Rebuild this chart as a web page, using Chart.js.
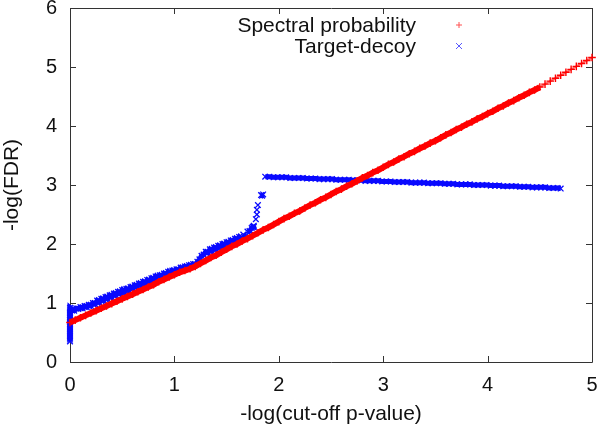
<!DOCTYPE html>
<html>
<head>
<meta charset="utf-8">
<script src="https://cdn.jsdelivr.net/npm/chart.js@4.4.1/dist/chart.umd.min.js"></script>
<style>
html,body{margin:0;padding:0;background:#fff;}
canvas{display:block;}
</style>
</head>
<body>
<canvas id="c" width="600" height="427"></canvas>
<script>
// ---- data ----
const xTicks = [0, 1, 2, 3, 4, 5];
const yTicks = [0, 1, 2, 3, 4, 5, 6];

const specLabel = "Spectral probability";
const specX = [0.00,0.05,0.10,0.15,0.20,0.25,0.30,0.35,0.40,0.45,0.50,0.55,0.60,0.65,0.70,0.75,0.80,0.85,0.90,0.95,
1.00,1.05,1.10,1.15,1.20,1.25,1.30,1.35,1.40,1.45,1.50,1.55,1.60,1.65,1.70,1.75,1.80,1.85,1.90,1.95,
2.00,2.05,2.10,2.15,2.20,2.25,2.30,2.35,2.40,2.45,2.50,2.55,2.60,2.65,2.70,2.75,2.80,2.85,2.90,2.95,
3.00,3.05,3.10,3.15,3.20,3.25,3.30,3.35,3.40,3.45,3.50,3.55,3.60,3.65,3.70,3.75,3.80,3.85,3.90,3.95,
4.00,4.05,4.10,4.15,4.20,4.25,4.30,4.35,4.40,4.45,4.50,4.55,4.60,4.65,4.70,4.75,4.80,4.85,4.90,4.95,5.00];
const specY = [0.67,0.71,0.75,0.79,0.83,0.87,0.91,0.95,0.99,1.03,1.07,1.11,1.15,1.19,1.23,1.27,1.31,1.36,1.40,1.44,
1.48,1.52,1.55,1.58,1.62,1.67,1.72,1.77,1.81,1.86,1.91,1.96,2.00,2.05,2.09,2.14,2.19,2.24,2.28,2.33,
2.38,2.43,2.47,2.52,2.56,2.61,2.66,2.70,2.75,2.79,2.84,2.89,2.93,2.98,3.02,3.07,3.12,3.16,3.21,3.25,
3.30,3.35,3.39,3.44,3.48,3.53,3.57,3.62,3.66,3.71,3.75,3.80,3.85,3.89,3.94,3.98,4.03,4.07,4.12,4.16,
4.21,4.25,4.30,4.34,4.39,4.43,4.48,4.52,4.57,4.61,4.66,4.71,4.76,4.81,4.86,4.91,4.96,5.01,5.06,5.11,5.16];

const tdLabel = "Target-decoy";
const tdX = [0,0,0,0,0,0,0,0,0,0,0,0,0,0,0,0,0,0,0,0,
0.02,0.04,0.06,0.08,0.10,0.12,0.14,0.16,0.18,0.20,0.22,0.24,0.26,0.28,0.30,0.32,0.34,0.36,0.38,0.40,
0.42,0.44,0.46,0.48,0.50,0.52,0.54,0.56,0.58,0.60,0.62,0.64,0.66,0.68,0.70,0.72,0.74,0.76,0.78,0.80,
0.82,0.84,0.86,0.88,0.90,0.92,0.94,0.96,0.98,1.00,1.02,1.04,1.06,1.08,1.10,1.12,1.14,1.16,1.18,1.20,
1.22,1.24,1.26,1.28,1.30,1.32,1.34,1.36,1.38,1.40,1.42,1.44,1.46,1.48,1.50,1.52,1.54,1.56,1.58,1.60,
1.62,1.64,1.66,1.68,1.70,1.72,1.74,1.75,1.76,1.76,1.78,1.79,1.79,1.80,1.83,1.84,1.85,
1.87,1.91,1.95,1.99,2.03,2.07,2.11,2.15,2.19,2.23,2.27,2.31,2.35,2.39,2.43,2.47,2.51,2.55,2.59,2.63,
2.67,2.71,2.75,2.79,2.83,2.87,2.91,2.95,2.99,3.03,3.07,3.11,3.15,3.19,3.23,3.27,3.31,3.35,3.39,3.43,
3.47,3.51,3.55,3.59,3.63,3.67,3.71,3.75,3.79,3.83,3.87,3.91,3.95,3.99,4.03,4.07,4.11,4.15,4.19,4.23,
4.27,4.31,4.35,4.39,4.43,4.47,4.51,4.55,4.59,4.63,4.67,4.70];
const tdY = [0.35,0.38,0.41,0.44,0.47,0.50,0.53,0.56,0.59,0.62,0.65,0.68,0.71,0.74,0.77,0.80,0.83,0.86,0.89,0.92,
0.89,0.87,0.91,0.90,0.93,0.91,0.95,0.93,0.97,0.95,1.00,0.98,1.04,1.01,1.07,1.04,1.10,1.07,1.13,1.10,
1.16,1.13,1.19,1.16,1.22,1.18,1.24,1.21,1.27,1.24,1.30,1.27,1.33,1.30,1.36,1.33,1.39,1.36,1.42,1.39,
1.45,1.41,1.47,1.44,1.50,1.47,1.53,1.49,1.55,1.52,1.57,1.55,1.60,1.57,1.62,1.59,1.64,1.61,1.66,1.64,
1.70,1.74,1.80,1.82,1.87,1.85,1.91,1.88,1.94,1.91,1.97,1.94,2.00,1.97,2.03,2.00,2.06,2.03,2.09,2.06,
2.12,2.09,2.16,2.13,2.21,2.22,2.27,2.29,2.29,2.31,2.42,2.50,2.58,2.66,2.83,2.82,2.84,
3.14,3.14,3.13,3.13,3.13,3.13,3.12,3.12,3.12,3.12,3.11,3.11,3.11,3.10,3.10,3.10,3.10,3.09,3.09,3.09,
3.09,3.08,3.08,3.08,3.07,3.07,3.07,3.07,3.06,3.06,3.06,3.05,3.05,3.05,3.05,3.04,3.04,3.04,3.04,3.03,
3.03,3.03,3.03,3.02,3.02,3.02,3.01,3.01,3.01,3.01,3.00,3.00,3.00,3.00,2.99,2.99,2.99,2.98,2.98,2.98,
2.98,2.97,2.97,2.97,2.96,2.96,2.96,2.96,2.95,2.95,2.95,2.94];

const xTitle = "-log(cut-off p-value)";
const yTitle = "-log(FDR)";

// ---- build ----
const toPts = (xs, ys) => xs.map((x, i) => ({x: x, y: ys[i]}));
const FONT = "'Liberation Sans', Arial, Helvetica, sans-serif";

const framePlugin = {
  id: 'frame',
  beforeDatasetsDraw(chart) {
    const {ctx, chartArea: a, scales} = chart;
    ctx.save();
    ctx.strokeStyle = '#333';
    ctx.lineWidth = 1;
    ctx.beginPath();
    ctx.rect(Math.round(a.left) + 0.5, Math.round(a.top) + 0.5, Math.round(a.right - a.left), Math.round(a.bottom - a.top));
    const L = 6;
    xTicks.forEach(v => {
      const px = Math.round(scales.x.getPixelForValue(v)) + 0.5;
      ctx.moveTo(px, a.bottom); ctx.lineTo(px, a.bottom - L);
      ctx.moveTo(px, a.top); ctx.lineTo(px, a.top + L);
    });
    yTicks.forEach(v => {
      const py = Math.round(scales.y.getPixelForValue(v)) + 0.5;
      ctx.moveTo(a.left, py); ctx.lineTo(a.left + L, py);
      ctx.moveTo(a.right, py); ctx.lineTo(a.right - L, py);
    });
    ctx.stroke();
    ctx.restore();
  }
};

const legendPlugin = {
  id: 'gpLegend',
  afterDraw(chart) {
    const {ctx} = chart;
    const ds = chart.data.datasets;
    const textRight = 416, markX = 459;
    const rows = [25, 46];
    ctx.save();
    ctx.font = "21px " + FONT;
    ctx.fillStyle = '#111';
    ctx.textAlign = 'right';
    ctx.textBaseline = 'middle';
    ds.forEach((d, i) => {
      const y = rows[i];
      ctx.fillText(d.label, textRight, y + 1);
      ctx.strokeStyle = d.legendColor;
      ctx.lineWidth = 1;
      ctx.beginPath();
      const r = 3;
      if (d.pointStyle === 'cross') {
        ctx.moveTo(markX - r, y); ctx.lineTo(markX + r, y);
        ctx.moveTo(markX, y - r); ctx.lineTo(markX, y + r);
      } else {
        ctx.moveTo(markX - r, y - r); ctx.lineTo(markX + r, y + r);
        ctx.moveTo(markX - r, y + r); ctx.lineTo(markX + r, y - r);
      }
      ctx.stroke();
    });
    ctx.restore();
  }
};

new Chart(document.getElementById('c'), {
  type: 'scatter',
  data: {
    datasets: [
      {
        label: specLabel,
        data: toPts(specX, specY),
        showLine: true,
        borderWidth: 6,
        segment: {
          borderWidth: c => (c.p0.parsed.x >= 4.5 ? 2 : undefined),
          borderColor: c => (c.p0.parsed.x >= 4.5 ? 'rgba(255,60,60,0.8)' : undefined)
        },
        pointStyle: 'cross',
        pointRadius: 3.8,
        pointBorderWidth: 1.4,
        pointBorderColor: 'rgb(255,0,0)',
        borderColor: 'rgb(255,0,0)',
        backgroundColor: 'rgb(255,0,0)',
        legendColor: 'rgb(255,80,80)',
        clip: false
      },
      {
        label: tdLabel,
        data: toPts(tdX, tdY),
        showLine: true,
        borderWidth: 5,
        segment: {
          borderColor: c => (c.p1.parsed.y - c.p0.parsed.y > 0.07 ? 'rgba(0,0,0,0)' : undefined)
        },
        pointStyle: 'crossRot',
        pointRadius: 4,
        pointBorderWidth: 1.3,
        pointBorderColor: 'rgb(10,10,255)',
        borderColor: 'rgb(10,10,255)',
        backgroundColor: 'rgb(10,10,255)',
        legendColor: 'rgb(90,90,255)',
        clip: false
      }
    ]
  },
  options: {
    responsive: false,
    devicePixelRatio: 1,
    animation: false,
    layout: {padding: {top: 8, right: 8, left: 0, bottom: 0}},
    plugins: {legend: {display: false}, tooltip: {enabled: false}},
    scales: {
      x: {
        type: 'linear', min: 0, max: 5,
        afterBuildTicks: s => { s.ticks = xTicks.map(v => ({value: v})); },
        afterFit: s => { s.height = 65; s.paddingLeft = 0; s.paddingRight = 0; s.paddingTop = 0; s.paddingBottom = 0; },
        grid: {display: false, drawTicks: false, tickLength: 0},
        border: {display: false},
        ticks: {color: '#111', font: {family: FONT, size: 20}, padding: 11, maxRotation: 0},
        title: {display: true, text: xTitle, color: '#111', font: {family: FONT, size: 21}, padding: {top: 0, bottom: 0}}
      },
      y: {
        type: 'linear', min: 0, max: 6,
        afterBuildTicks: s => { s.ticks = yTicks.map(v => ({value: v})); },
        afterFit: s => { s.width = 70; s.paddingLeft = 0; s.paddingRight = 0; s.paddingTop = 0; s.paddingBottom = 0; },
        grid: {display: false, drawTicks: false, tickLength: 0},
        border: {display: false},
        ticks: {color: '#111', font: {family: FONT, size: 20}, padding: 13},
        title: {display: true, text: yTitle, color: '#111', font: {family: FONT, size: 21}, padding: {top: 0, bottom: 0}}
      }
    }
  },
  plugins: [framePlugin, legendPlugin]
});
</script>
</body>
</html>
